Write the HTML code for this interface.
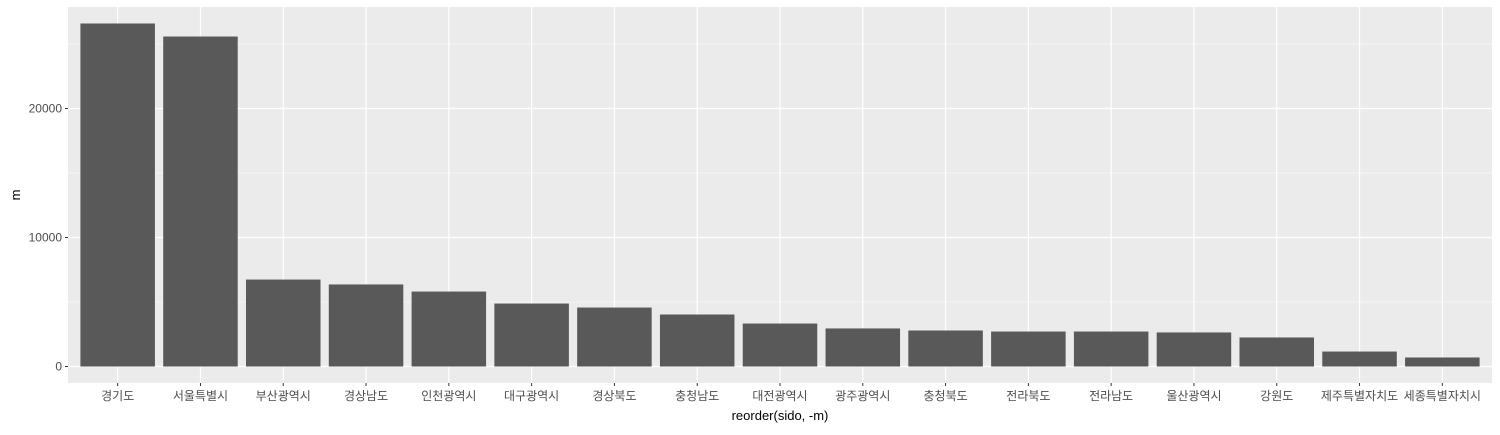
<!DOCTYPE html>
<html><head><meta charset="utf-8"><style>
body{margin:0;background:#fff;width:1500px;height:430px;overflow:hidden}
text{font-family:"Liberation Sans","Noto Sans CJK KR",sans-serif}
</style></head><body>
<svg id="chart" width="1500" height="430" xmlns="http://www.w3.org/2000/svg"></svg>
<script>
const categories=["경기도","서울특별시","부산광역시","경상남도","인천광역시","대구광역시","경상북도","충청남도","대전광역시","광주광역시","충청북도","전라북도","전라남도","울산광역시","강원도","제주특별자치도","세종특별자치시"];
const values=[26590,25580,6740,6360,5810,4880,4570,4030,3330,2950,2790,2710,2710,2640,2250,1160,700];
const yTicks=[0,10000,20000];
const yMinor=[5000,15000,25000];
const svg=document.getElementById('chart');
const NS='http://www.w3.org/2000/svg';
const L=68,R=1492,T=7,B=383;
const y0=366.5,pxPer=129/10000;
function y(v){return y0-v*pxPer;}
const step=(R-L)/(categories.length-1+1.2);
function x(i){return L+step*(0.6+i);}
const bw=step*0.9;
function mk(tag,attrs,parent){const e=document.createElementNS(NS,tag);for(const k in attrs)e.setAttribute(k,attrs[k]);(parent||svg).appendChild(e);return e;}
const panel=mk('rect',{x:L,y:T,width:R-L,height:B-T,fill:'#ebebeb'});


yMinor.forEach(v=>{const g=mk('line',{x1:L,x2:R,y1:y(v),y2:y(v),stroke:'#fff','stroke-width':0.6});

});
yTicks.forEach(v=>{const g=mk('line',{x1:L,x2:R,y1:y(v),y2:y(v),stroke:'#fff','stroke-width':1.2});


const t=mk('line',{x1:L-3,x2:L,y1:y(v),y2:y(v),stroke:'#333','stroke-width':1});


const lb=mk('text',{x:L-6,y:y(v)+4,'text-anchor':'end','font-size':12,fill:'#4d4d4d'});lb.textContent=v;

});
categories.forEach((c,i)=>{const g=mk('line',{x1:x(i),x2:x(i),y1:T,y2:B,stroke:'#fff','stroke-width':1.2});

});
categories.forEach((c,i)=>{
const b=mk('rect',{x:x(i)-bw/2,y:y(values[i]),width:bw,height:y(0)-y(values[i]),fill:'#595959'});


const t=mk('line',{x1:x(i),x2:x(i),y1:B,y2:B+3,stroke:'#333','stroke-width':1});


const lb=mk('text',{x:x(i),y:B+17,'text-anchor':'middle','font-size':12,fill:'#4d4d4d'});lb.textContent=c;


});
const xt=mk('text',{x:(L+R)/2,y:420,'text-anchor':'middle','font-size':13,fill:'#000'});xt.textContent='reorder(sido, -m)';


const yt=mk('text',{x:20,y:(T+B)/2,'text-anchor':'middle','font-size':13,fill:'#000',transform:'rotate(-90 20 '+((T+B)/2)+')'});yt.textContent='m';


</script>
</body></html>
